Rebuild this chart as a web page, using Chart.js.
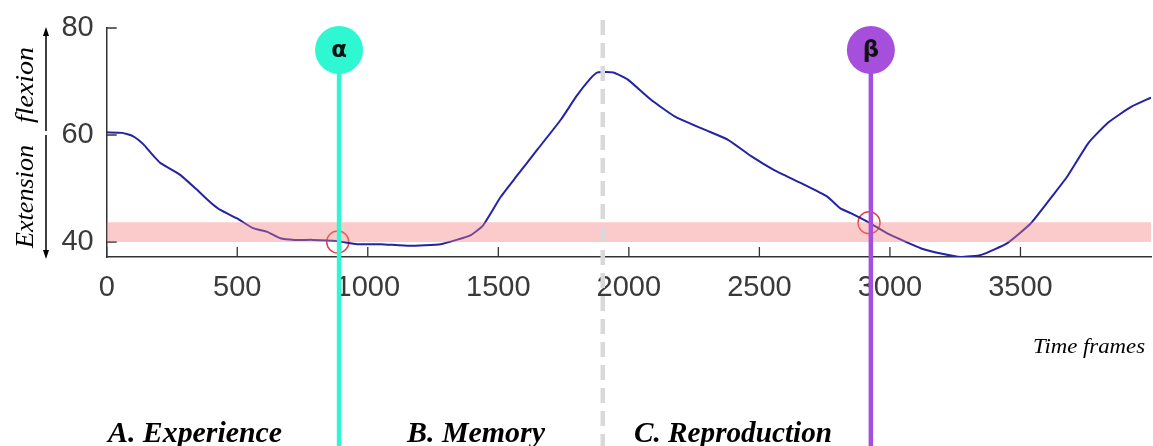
<!DOCTYPE html>
<html lang="en">
  <head>
    <meta charset="utf-8" />
    <title>Knee angle over time</title>
    <style>
      html, body { margin: 0; padding: 0; background: #fff; overflow: hidden; }
    </style>
  </head>
  <body>
    <canvas id="canvas" width="1153" height="446"></canvas>

    <script src="https://cdn.jsdelivr.net/npm/chart.js"></script>

    <script>
      // time frame / joint angle
      const frames = [0, 60, 100, 140, 170, 205, 280, 345, 400, 435, 500, 560, 615, 665, 720, 790, 880, 960, 1050, 1160, 1280, 1340, 1395, 1440, 1510, 1570, 1650, 1740, 1800, 1850, 1880, 1940, 1995, 2085, 2175, 2290, 2380, 2470, 2555, 2660, 2760, 2810, 2850, 2925, 2990, 3120, 3200, 3270, 3350, 3450, 3540, 3630, 3680, 3760, 3835, 3925, 4000];
      const angle = [60.5, 60.4, 59.8, 58.3, 56.6, 54.8, 52.6, 49.8, 47.3, 46.0, 44.4, 42.6, 41.9, 40.7, 40.4, 40.4, 40.2, 39.6, 39.6, 39.3, 39.6, 40.4, 41.3, 43.0, 48.5, 52.3, 57.3, 62.9, 67.3, 70.4, 71.7, 71.7, 70.4, 66.6, 63.5, 61.0, 59.1, 56.0, 53.5, 51.0, 48.5, 46.3, 45.4, 43.5, 41.6, 38.8, 37.8, 37.2, 37.6, 39.8, 43.5, 49.1, 52.3, 58.5, 62.3, 65.3, 67.0];

      const xTicks = [0, 500, 1000, 1500, 2000, 2500, 3000, 3500];
      const yTicks = [40, 60, 80];

      // target band and crossing points
      const band = [40, 43.7];
      const crossFrames = [885, 2920];
      const crossAngles = [40.0, 43.6];

      // event markers
      const markerFrames = [890, 2927];
      const markerLabels = ["α", "β"];
      const markerColors = ["#2ef7d2", "#a64fdc"];
      const phaseSplit = 1900;
      const phaseLabels = ["A. Experience", "B. Memory", "C. Reproduction"];

      const ctx = document.getElementById("canvas");

      function fitText(c, text, x, y, width) {
        const w = c.measureText(text).width;
        c.save();
        c.translate(x, y);
        c.scale(width / w, 1);
        c.fillText(text, 0, 0);
        c.restore();
      }

      const overlay = {
        id: "overlay",
        beforeDatasetsDraw(chart) {
          const c = chart.ctx;
          const xs = chart.scales.x, ys = chart.scales.y;
          const a = chart.chartArea;
          c.save();
          c.strokeStyle = "#333";
          c.lineWidth = 1.3;
          c.beginPath();
          xTicks.forEach(function (v) {
            const px = xs.getPixelForValue(v);
            c.moveTo(px, a.bottom);
            c.lineTo(px, a.bottom - 10);
          });
          yTicks.forEach(function (v) {
            const py = ys.getPixelForValue(v);
            c.moveTo(a.left, py);
            c.lineTo(a.left + 10, py);
          });
          c.stroke();
          c.restore();
        },
        afterDatasetsDraw(chart) {
          const c = chart.ctx;
          const ys = chart.scales.y;
          const a = chart.chartArea;
          const top = ys.getPixelForValue(band[1]);
          const bot = ys.getPixelForValue(band[0]);
          c.save();
          c.fillStyle = "rgba(245,125,125,0.40)";
          c.fillRect(a.left, top, a.right - a.left, bot - top);
          c.restore();
        },
        afterDraw(chart) {
          const c = chart.ctx;
          const xs = chart.scales.x;
          const H = chart.height;
          c.save();

          // dashed phase divider
          const gx = xs.getPixelForValue(phaseSplit);
          c.strokeStyle = "#d9d9d9";
          c.lineWidth = 4.5;
          c.setLineDash([15, 8]);
          c.beginPath();
          c.moveTo(gx, 20);
          c.lineTo(gx, H);
          c.stroke();
          c.setLineDash([]);

          // alpha / beta markers
          markerFrames.forEach(function (f, i) {
            const px = xs.getPixelForValue(f);
            c.strokeStyle = markerColors[i];
            c.lineWidth = 4.5;
            c.beginPath();
            c.moveTo(px, 50);
            c.lineTo(px, H);
            c.stroke();
            c.fillStyle = markerColors[i];
            c.beginPath();
            c.arc(px, 50, 24, 0, Math.PI * 2);
            c.fill();
            c.fillStyle = "#111";
            c.font = "bold 23px 'DejaVu Sans'";
            c.textAlign = "center";
            c.textBaseline = "middle";
            c.fillText(markerLabels[i], px, 51);
          });

          // axis titles
          c.fillStyle = "#000";
          c.textAlign = "left";
          c.textBaseline = "alphabetic";
          c.font = "italic 22px 'Liberation Serif'";
          fitText(c, "Time frames", 1033, 353, 112);

          c.font = "italic bold 30px 'Liberation Serif'";
          fitText(c, phaseLabels[0], 108, 442, 174);
          fitText(c, phaseLabels[1], 407, 442, 138);
          fitText(c, phaseLabels[2], 634, 442, 198);

          c.font = "italic 26px 'Liberation Serif'";
          c.save();
          c.translate(33, 248);
          c.rotate(-Math.PI / 2);
          fitText(c, "Extension", 0, 0, 103);
          c.restore();
          c.save();
          c.translate(33, 123);
          c.rotate(-Math.PI / 2);
          fitText(c, "flexion", 0, 0, 76);
          c.restore();

          // arrows
          c.strokeStyle = "#000";
          c.fillStyle = "#000";
          c.lineWidth = 1.5;
          c.beginPath();
          c.moveTo(46, 34);
          c.lineTo(46, 131);
          c.moveTo(46, 135);
          c.lineTo(46, 252);
          c.stroke();
          c.beginPath();
          c.moveTo(46, 27);
          c.lineTo(43, 36);
          c.lineTo(49, 36);
          c.closePath();
          c.fill();
          c.beginPath();
          c.moveTo(46, 259);
          c.lineTo(43, 250);
          c.lineTo(49, 250);
          c.closePath();
          c.fill();

          c.restore();
        },
      };

      new Chart(ctx, {
        type: "scatter",
        data: {
          datasets: [
            {
              data: frames.map(function (f, i) {
                return { x: f, y: angle[i] };
              }),
              showLine: true,
              borderColor: "#2323a3",
              borderWidth: 2,
              pointRadius: 0,
              tension: 0.15,
            },
            {
              data: crossFrames.map(function (f, i) {
                return { x: f, y: crossAngles[i] };
              }),
              showLine: false,
              pointRadius: 11,
              pointBorderColor: "#e04545",
              pointBorderWidth: 1.5,
              pointBackgroundColor: "rgba(0,0,0,0)",
            },
          ],
        },
        options: {
          responsive: false,
          animation: false,
          layout: { autoPadding: false, padding: { top: 28, right: 2, left: 0, bottom: 0 } },
          plugins: {
            legend: { display: false },
            tooltip: { enabled: false },
          },
          scales: {
            x: {
              type: "linear",
              min: 0,
              max: 4000,
              afterBuildTicks: function (s) {
                s.ticks = xTicks.map(function (v) { return { value: v }; });
              },
              afterFit: function (s) {
                s.height = 189;
                s.paddingLeft = 0;
                s.paddingRight = 0;
              },
              grid: { display: false, drawTicks: false },
              border: { display: true, color: "#333", width: 1.5 },
              ticks: {
                padding: 14,
                maxRotation: 0,
                autoSkip: false,
                color: "#3a3a3a",
                font: { family: "'Liberation Sans'", size: 29 },
                callback: function (v) { return String(v); },
              },
            },
            y: {
              min: 37.2,
              max: 80,
              afterBuildTicks: function (s) {
                s.ticks = yTicks.map(function (v) { return { value: v }; });
              },
              afterFit: function (s) {
                s.width = 106.7;
                s.paddingTop = 0;
                s.paddingBottom = 0;
              },
              grid: { display: false, drawTicks: false },
              border: { display: true, color: "#333", width: 1.5 },
              ticks: {
                padding: 13,
                color: "#3a3a3a",
                font: { family: "'Liberation Sans'", size: 29 },
                callback: function (v) { return String(v); },
              },
            },
          },
        },
        plugins: [overlay],
      });
    </script>
  </body>
</html>
